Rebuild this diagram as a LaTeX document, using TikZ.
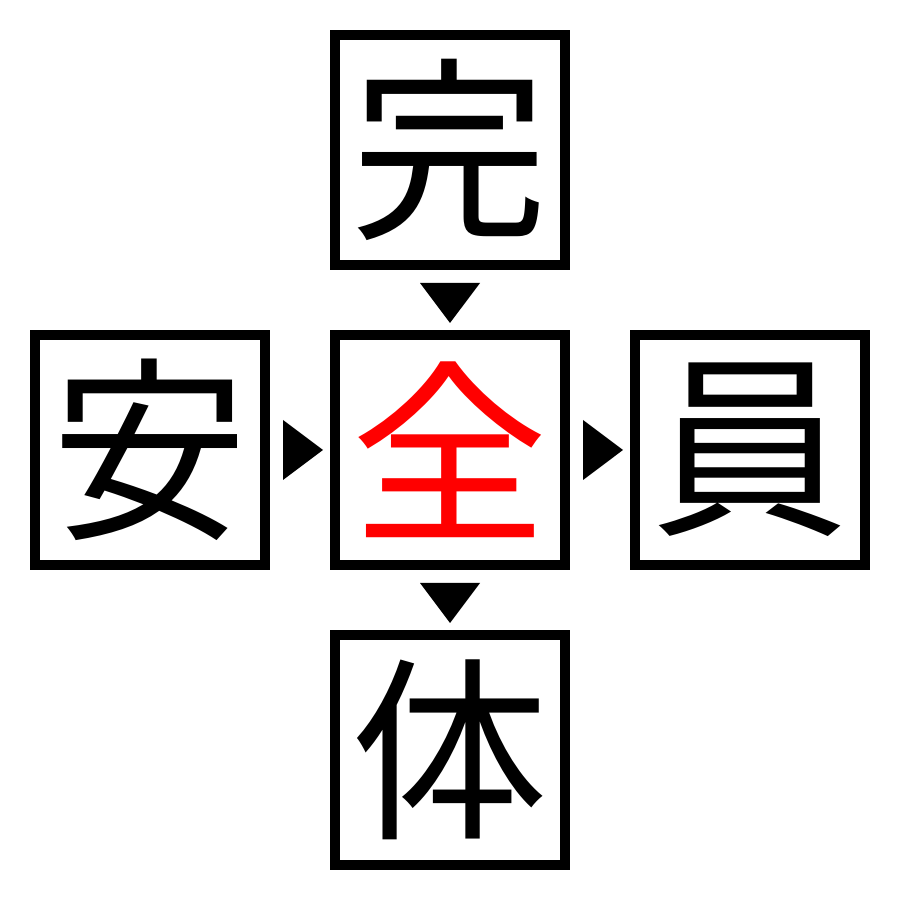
\documentclass[tikz,border=0pt]{standalone}
\usepackage{fontspec}
\newfontfamily\jp{Noto Sans CJK JP}
\usetikzlibrary{calc}
\tikzset{
  kbox/.style={draw, line width=1mm, minimum size=2.3cm, inner sep=0pt,
    font=\jp\fontsize{56}{56}\selectfont},
  tri/.style={fill=black}
}
\begin{document}
\begin{tikzpicture}
	    \useasboundingbox (0,0) rectangle (9,9);
	    
	    \node [kbox] (top) at (4.5,7.5) {完};
	    \node [kbox] (left) at (1.5,4.5) {安};
	    \node [kbox, text=red] (mid) at (4.5,4.5) {全};
	    \node [kbox] (right) at (7.5,4.5) {員};
	    \node [kbox] (bot) at (4.5,1.5) {体};
	    
	    % markers between the boxes
	    \fill [tri] ($(top.south)!.5!(mid.north)$) +(-0.3,0.17) -- +(0.3,0.17) -- +(0,-0.23) -- cycle;
	    \fill [tri] ($(mid.south)!.5!(bot.north)$) +(-0.3,0.17) -- +(0.3,0.17) -- +(0,-0.23) -- cycle;
	    \fill [tri] ($(left.east)!.5!(mid.west)$) +(-0.17,0.3) -- +(-0.17,-0.3) -- +(0.23,0) -- cycle;
	    \fill [tri] ($(mid.east)!.5!(right.west)$) +(-0.17,0.3) -- +(-0.17,-0.3) -- +(0.23,0) -- cycle;
	    
\end{tikzpicture}
\end{document}
